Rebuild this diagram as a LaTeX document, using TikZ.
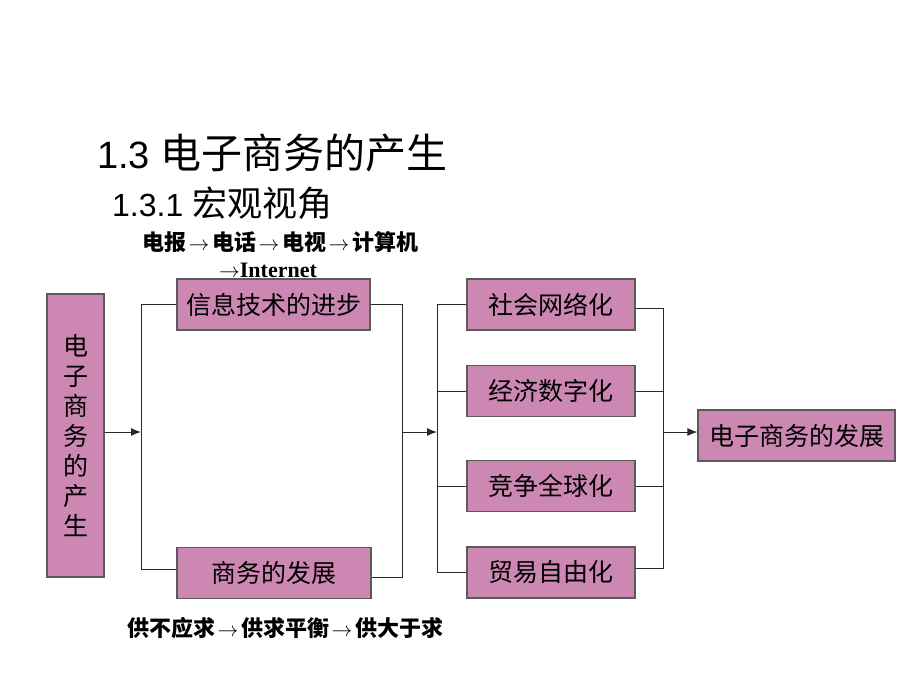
\documentclass[tikz,border=0pt]{standalone}
\usepackage{fontspec}
\setmainfont{Liberation Sans}
\newfontfamily\cjk{Noto Sans CJK SC}
\newfontfamily\tms{Liberation Serif}
\usetikzlibrary{arrows.meta}
\definecolor{boxpink}{RGB}{204,136,178}
\definecolor{boxline}{RGB}{90,90,90}
\definecolor{wire}{RGB}{40,40,40}
\newcommand\thenarrow{\makebox[26pt]{$\rightarrow$}}

\begin{document}
\begin{tikzpicture}[x=1pt, y=-1pt,
	box/.style={draw=boxline, fill=boxpink, line width=1.3pt, inner sep=0pt,
		minimum height=51pt, font=\cjk\fontsize{25}{30}\selectfont},
	link/.style={draw=wire, line width=1pt},
	feed/.style={link, -{Latex[length=10pt,width=8pt]}},
	note/.style={inner sep=0pt, font=\cjk\bfseries\fontsize{22}{26}\selectfont}]
	
	\useasboundingbox[fill=white] (0,0) rectangle (920,690);
	
	% headings
	\node[anchor=base west, inner sep=0pt] (title) at (97,168)
		{\fontsize{38}{40}\selectfont 1.3 {\cjk\fontsize{41}{44}\selectfont 电子商务的产生}};
	\node[anchor=base west, inner sep=0pt] (subtitle) at (112,216)
		{\fontsize{32}{34}\selectfont 1.3.1 {\cjk\fontsize{35}{37}\selectfont 宏观视角}};
	
	% boxes
	\node[box, minimum width=57pt, minimum height=283pt, align=center] (src) at (75.5,435.5)
		{电\\子\\商\\务\\的\\产\\生};
	\node[box, minimum width=193pt] (info) at (273.5,304.5) {信息技术的进步};
	\node[box, minimum width=194pt] (biz) at (274,573) {商务的发展};
	\node[box, minimum width=168pt] (soc) at (551,304.5) {社会网络化};
	\node[box, minimum width=168pt] (eco) at (551,391) {经济数字化};
	\node[box, minimum width=168pt] (comp) at (551,486) {竞争全球化};
	\node[box, minimum width=168pt] (trade) at (551,572.5) {贸易自由化};
	\node[box, minimum width=197pt] (dev) at (796.5,435.5) {电子商务的发展};
	
	% notes
	\node[note] (tech) at (280,242) {电报\thenarrow 电话\thenarrow 电视\thenarrow 计算机};
	\node[note] (net) at (268,270) {$\rightarrow${\tms\bfseries Internet}};
	\node[note] (supply) at (285,628) {供不应求\thenarrow 供求平衡\thenarrow 供大于求};
	
	% bracket corners
	\coordinate (b1) at (141,432);
	\coordinate (b2) at (402,432);
	\coordinate (b3) at (437,432);
	\coordinate (b4) at (663,432);
	
	\draw[feed] (src.east |- b1) -- (b1);
	\draw[link] (info.west) -| (b1 |- 0,569) -- (biz.west |- 0,569);
	\draw[link] (info.east) -| (b2 |- 0,577) -- (biz.east |- 0,577);
	\draw[feed] (b2) -- (b3);
	
	\draw[link] (soc.west) -| (b3 |- trade.west) -- (trade.west);
	\draw[link] (eco.west) -- (b3 |- eco.west);
	\draw[link] (comp.west) -- (b3 |- comp.west);
	\draw[link] (soc.east |- 0,308) -| (b4 |- 0,568) -- (trade.east |- 0,568);
	\draw[link] (eco.east) -- (b4 |- eco.east);
	\draw[link] (comp.east) -- (b4 |- comp.east);
	\draw[feed] (b4) -- (dev.west |- b4);
	
\end{tikzpicture}
\end{document}
